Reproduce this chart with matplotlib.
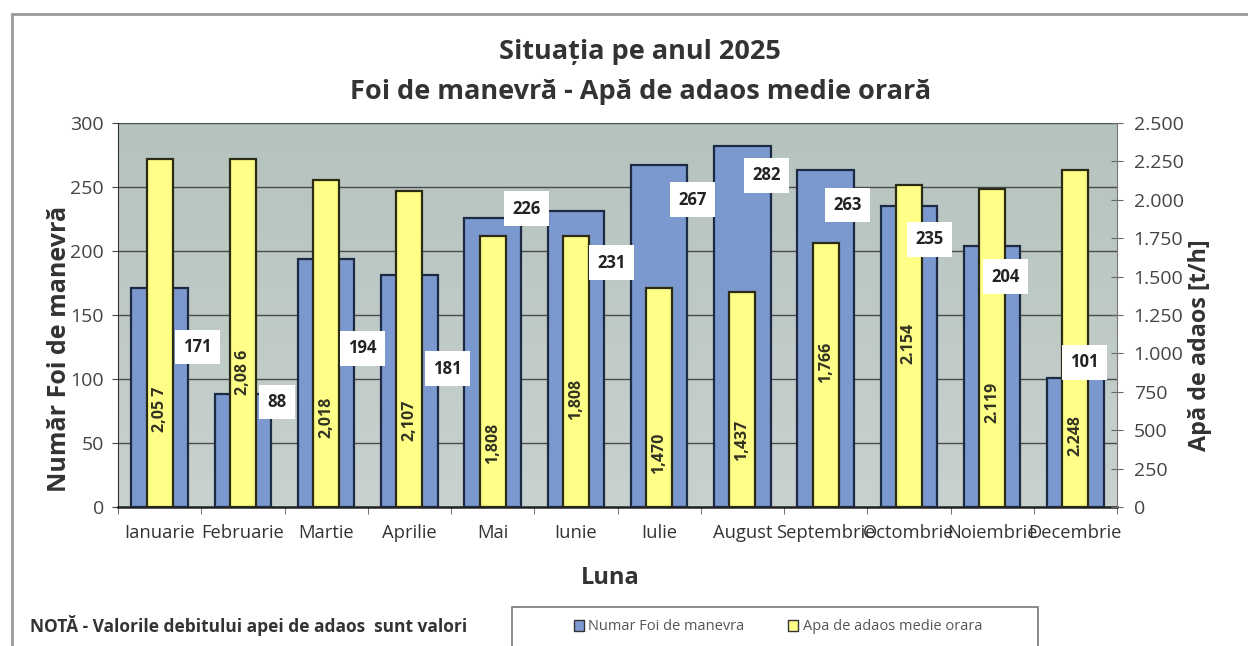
import numpy as np
import matplotlib
matplotlib.use('Agg')
import matplotlib.pyplot as plt
from matplotlib.patches import Patch, Rectangle
from matplotlib.colors import LinearSegmentedColormap

plt.rcParams['font.family'] = ['Open Sans', 'DejaVu Sans']

# data
luni = ['Ianuarie', 'Februarie', 'Martie', 'Aprilie', 'Mai', 'Iunie', 'Iulie',
        'August', 'Septembrie', 'Octombrie', 'Noiembrie', 'Decembrie']
foi = [171, 88, 194, 181, 226, 231, 267, 282, 263, 235, 204, 101]
# height of the yellow bars as drawn (right axis, t/h)
apa = [2266, 2266, 2129, 2059, 1764, 1764, 1428, 1400, 1721, 2096, 2070, 2194]
# the printed labels of the yellow bars
apa_txt = ['2,05 7', '2,08 6', '2,018', '2,107', '1,808', '1,808', '1,470',
           '1,437', '1,766', '2.154', '2.119', '2.248']

# label placement (left axis units / category offsets)
foi_lab_dx = [0.45, 0.41, 0.44, 0.46, 0.41, 0.43, 0.40, 0.29, 0.26, 0.25, 0.16, 0.11]
foi_lab_y = [125, 82, 124, 108, 233, 191, 240, 259, 236, 209, 180, 113]
apa_lab_y = [76, 105, 70, 68, 50, 84, 42, 52, 113, 128, 82, 56]

blue = '#7b99cf'
yellow = '#ffff88'
txt = '#333333'

fig = plt.figure(figsize=(12.48, 6.46), dpi=100)
ax = fig.add_axes([118/1248, 1-507/646, 999/1248, 384/646])
x = np.arange(len(luni))

ax.set_xlim(-0.5, 11.5)
ax.set_ylim(0, 300)
bg = LinearSegmentedColormap.from_list('bg', ['#c8d1cd', '#b5c3bf'])
ax.imshow(np.linspace(0, 1, 100).reshape(-1, 1), cmap=bg, origin='lower',
          extent=[-0.5, 11.5, 0, 300], aspect='auto', zorder=-1)

ax.bar(x, foi, width=0.68, color=blue, edgecolor='#1c2a44', linewidth=1.6, zorder=3)
ax.set_yticks(range(0, 301, 50))
ax.yaxis.grid(True, color='#4a4a4a', linewidth=1)
ax.set_axisbelow(True)
ax.set_xticks(x)
ax.set_xticklabels(luni, fontsize=13.2, color=txt)
ax.set_xticks(np.arange(-0.5, 12, 1), minor=True)
ax.tick_params(axis='x', which='major', length=0, pad=12)
ax.tick_params(axis='x', which='minor', length=5, color='#555555')
ax.tick_params(axis='y', length=4, pad=6, labelsize=14, labelcolor='#444444', color='#444444')
ax.spines['right'].set_visible(False)
ax.spines['top'].set_visible(False)
ax.spines['left'].set_color('#333333')
ax.spines['bottom'].set_color('#222222')
ax.spines['bottom'].set_linewidth(1.8)

ax2 = ax.twinx()
ax2.bar(x, apa, width=0.31, color=yellow, edgecolor='#2b2b14', linewidth=1.6, zorder=3)
ax2.set_ylim(0, 2500)
ax2.set_yticks(range(0, 2501, 250))
ax2.set_yticklabels([f'{v:,}'.replace(',', '.') for v in range(0, 2501, 250)])
ax2.tick_params(axis='y', direction='inout', length=8, pad=8, labelsize=14,
                labelcolor='#444444', color='#666666')
for s in ['left', 'top', 'bottom']:
    ax2.spines[s].set_visible(False)
ax2.spines['right'].set_color('#777777')

for i in x:
    ax2.text(i + foi_lab_dx[i], foi_lab_y[i], str(foi[i]), transform=ax.transData,
             ha='center', va='center', fontsize=12, fontweight='bold', color='#222222',
             bbox=dict(facecolor='white', edgecolor='none', pad=6), zorder=6)
    ax2.text(i, apa_lab_y[i], apa_txt[i], transform=ax.transData, rotation=90,
             ha='center', va='center', fontsize=11.5, fontweight='bold', color='#333322',
             zorder=6)

fig.text(0.513, 1-52/646, 'Situația pe anul 2025', ha='center', va='center',
         fontsize=19.5, fontweight='bold', color=txt)
fig.text(0.513, 1-92/646, 'Foi de manevră - Apă de adaos medie orară', ha='center',
         va='center', fontsize=19.5, fontweight='bold', color=txt)
fig.text(60/1248, 1-349/646, 'Număr Foi de manevră', rotation=90, ha='center',
         va='center', fontsize=18, fontweight='bold', color=txt)
fig.text(1200/1248, 1-345/646, 'Apă de adaos [t/h]', rotation=90, ha='center',
         va='center', fontsize=16.8, fontweight='bold', color=txt)
fig.text(610/1248, 1-578/646, 'Luna', ha='center', va='center', fontsize=17,
         fontweight='bold', color=txt)
fig.text(30/1248, 1-626/646, 'NOTĂ - Valorile debitului apei de adaos  sunt valori',
         ha='left', va='center', fontsize=12.5, fontweight='bold', color=txt)

fig.patches.append(Rectangle((12/1248, -0.1), 1.2, 1-14/646+0.1, transform=fig.transFigure,
                             fill=False, edgecolor='#999999', linewidth=2))
fig.patches.append(Rectangle((512/1248, 1-648/646), 526/1248, 41/646, transform=fig.transFigure,
                             fill=False, edgecolor='#777777', linewidth=1.2))
handles = [Patch(facecolor=blue, edgecolor='#333333'), Patch(facecolor=yellow, edgecolor='#333333')]
leg = fig.legend(handles, ['Numar Foi de manevra', 'Apa de adaos medie orara'], loc='center',
                 bbox_to_anchor=(778/1248, 1-627/646), ncol=2, frameon=False, fontsize=10.5,
                 handlelength=0.7, handleheight=0.7, handletextpad=0.3, columnspacing=3.0)
for t in leg.get_texts():
    t.set_color('#555555')

fig.savefig('out.png', dpi=100)
